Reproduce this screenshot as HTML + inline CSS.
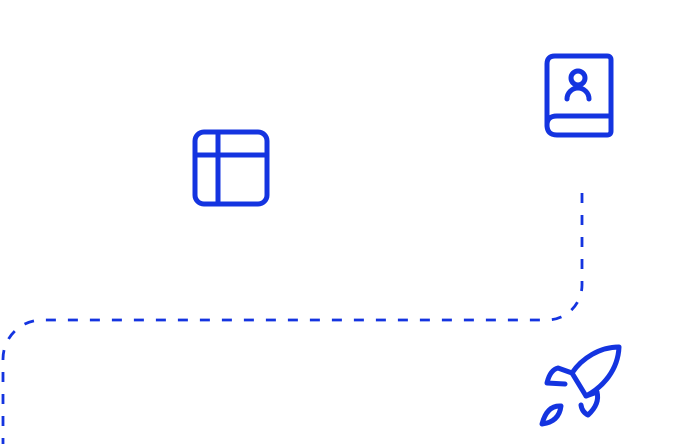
<!DOCTYPE html>
<html><head><meta charset="utf-8"><style>html,body{margin:0;padding:0;background:#fff;}svg{display:block}</style></head>
<body>
<svg width="675" height="444" viewBox="0 0 675 444" xmlns="http://www.w3.org/2000/svg" fill="none" stroke="#1434e0" stroke-linecap="round" stroke-linejoin="round">
<path d="M582 193 L582 285 A35 35 0 0 1 547 320 L42 320 A39 39 0 0 0 3 359 L3 444" stroke-width="2.8" stroke-dasharray="10 12" stroke-linecap="butt"/>
<!-- table -->
<rect x="195" y="132" width="72" height="72" rx="9" stroke-width="5"/>
<line x1="195" y1="155" x2="267" y2="155" stroke-width="5"/>
<line x1="218" y1="132" x2="218" y2="204" stroke-width="5"/>
<!-- book -->
<path d="M555 56 L607 56 Q611 56 611 60 L611 131 Q611 135 607 135 L557 135 Q547 135 547 125 L547 64 Q547 56 555 56 Z" stroke-width="5"/>
<path d="M547 125 Q547 116 557 116 L611 116" stroke-width="5"/>
<circle cx="578" cy="78" r="7" stroke-width="5"/>
<path d="M567 99 A11 11 0 0 1 589 99" stroke-width="5"/>
<!-- rocket -->
<path d="M619 347 C600 347 582 358 572 373 L586 396 C603 387 618 370 619 347 Z" stroke-width="5"/>
<path d="M572 373 L558 368 Q550 370 547 383 L565 384" stroke-width="5"/>
<path d="M586 396 L597 392 Q600 404 588 415 Q582 412 581 405" stroke-width="5"/>
<path d="M561 406 Q547 405 542 424 Q559 422 561 406 Z" stroke-width="5"/>
</svg>
</body></html>
